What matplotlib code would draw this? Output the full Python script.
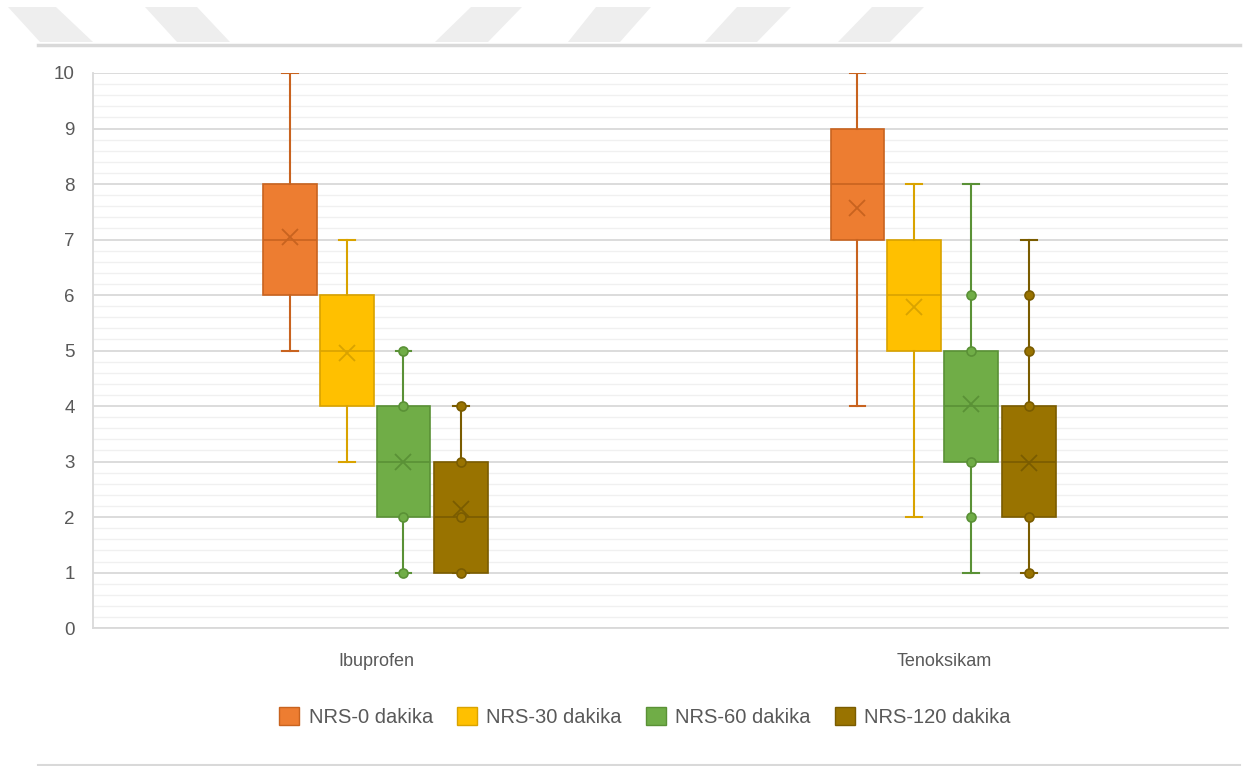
"""Box plot of NRS pain scores for Ibuprofen vs Tenoksikam."""

import matplotlib
matplotlib.use("Agg")
import matplotlib.pyplot as plt
from matplotlib.patches import Polygon, Patch
from matplotlib.ticker import MultipleLocator

groups = ["Ibuprofen", "Tenoksikam"]
series = ["NRS-0 dakika", "NRS-30 dakika", "NRS-60 dakika", "NRS-120 dakika"]

# per series: [Ibuprofen, Tenoksikam]
whisker_lo = [[5, 4], [3, 2], [1, 1], [1, 1]]
quart_1 = [[6, 7], [4, 5], [2, 3], [1, 2]]
medians = [[7, 8], [5, 6], [3, 4], [2, 3]]
quart_3 = [[8, 9], [6, 7], [4, 5], [3, 4]]
whisker_hi = [[10, 10], [7, 8], [5, 8], [4, 7]]
means = [[7.05, 7.57], [4.95, 5.78], [3.0, 4.03], [2.14, 2.97]]
inner_points = [
    [[], []],
    [[], []],
    [[5, 4, 2, 1], [6, 5, 3, 2]],
    [[4, 3, 2, 1], [6, 5, 4, 2, 1]],
]

colors = ["#ED7D31", "#FFC000", "#70AD47", "#997300"]
edges = ["#C8631F", "#D9A300", "#5A9136", "#7A5C00"]

plt.rcParams["font.family"] = ["Liberation Sans", "DejaVu Sans"]

fig = plt.figure(figsize=(12.57, 7.66), dpi=100)

# page decoration (header stripes and rules)
deco = fig.add_axes([0, 0, 1, 1], zorder=-5)
deco.set_xlim(0, 1257)
deco.set_ylim(766, 0)
deco.axis("off")
stripes = [
    [(8, 7), (56, 7), (93, 42), (40, 42)],
    [(145, 7), (197, 7), (230, 42), (177, 42)],
    [(471, 7), (522, 7), (488, 42), (435, 42)],
    [(596, 7), (651, 7), (620, 42), (568, 42)],
    [(737, 7), (791, 7), (757, 42), (705, 42)],
    [(872, 7), (924, 7), (890, 42), (838, 42)],
]
for pts in stripes:
    deco.add_patch(Polygon(pts, closed=True, facecolor="#EEEEEE", edgecolor="none"))
deco.plot([38, 1240], [45, 45], color="#D9D9D9", lw=2.5)
deco.plot([38, 1240], [765, 765], color="#D9D9D9", lw=1.5)

ax = fig.add_axes([0.074, 0.18, 0.903, 0.7247])

offsets = [-0.153, -0.053, 0.047, 0.149]
box_w = 0.095
for i, name in enumerate(series):
    stats = []
    for g in range(len(groups)):
        stats.append({
            "med": medians[i][g],
            "q1": quart_1[i][g],
            "q3": quart_3[i][g],
            "whislo": whisker_lo[i][g],
            "whishi": whisker_hi[i][g],
            "mean": means[i][g],
            "fliers": [],
        })
    pos = [g + offsets[i] for g in range(len(groups))]
    ax.bxp(
        stats, positions=pos, widths=box_w, patch_artist=True, showmeans=True,
        capwidths=0.028, manage_ticks=False,
        boxprops=dict(facecolor=colors[i], edgecolor=edges[i], linewidth=1.2),
        medianprops=dict(color=edges[i], linewidth=1.2),
        whiskerprops=dict(color=edges[i], linewidth=1.5),
        capprops=dict(color=edges[i], linewidth=1.5),
        meanprops=dict(marker="x", markersize=12, markeredgecolor=edges[i],
                       markeredgewidth=1.3),
    )
    for g in range(len(groups)):
        vals = inner_points[i][g]
        if vals:
            ax.plot([pos[g]] * len(vals), vals, linestyle="none", marker="o",
                    markersize=6.5, markerfacecolor=colors[i],
                    markeredgecolor=edges[i], markeredgewidth=1.2, zorder=4)

ax.set_xlim(-0.5, 1.5)
ax.set_ylim(0, 10)
ax.set_xticks(range(len(groups)))
ax.set_xticklabels(groups)
ax.yaxis.set_major_locator(MultipleLocator(1))
ax.yaxis.set_minor_locator(MultipleLocator(0.2))
ax.grid(True, which="major", axis="y", color="#D9D9D9", linewidth=1.3, zorder=0)
ax.grid(True, which="minor", axis="y", color="#F0F0F0", linewidth=1.0, zorder=0)
ax.set_axisbelow(True)
ax.tick_params(axis="both", which="both", length=0, labelcolor="#595959")
ax.tick_params(axis="x", labelsize=13, pad=18)
ax.tick_params(axis="y", labelsize=13.5, pad=13)
for side in ["top", "right"]:
    ax.spines[side].set_visible(False)
for side in ["left", "bottom"]:
    ax.spines[side].set_color("#D9D9D9")
    ax.spines[side].set_linewidth(1.3)

handles = [Patch(facecolor=c, edgecolor=e, label=s) for c, e, s in zip(colors, edges, series)]
fig.legend(handles=handles, loc="center", bbox_to_anchor=(0.513, 0.064), ncol=4,
           frameon=False, fontsize=14.5, handlelength=1.0, handleheight=1.0,
           handletextpad=0.45, columnspacing=1.2, labelcolor="#595959")

fig.savefig("out.png", dpi=100)
